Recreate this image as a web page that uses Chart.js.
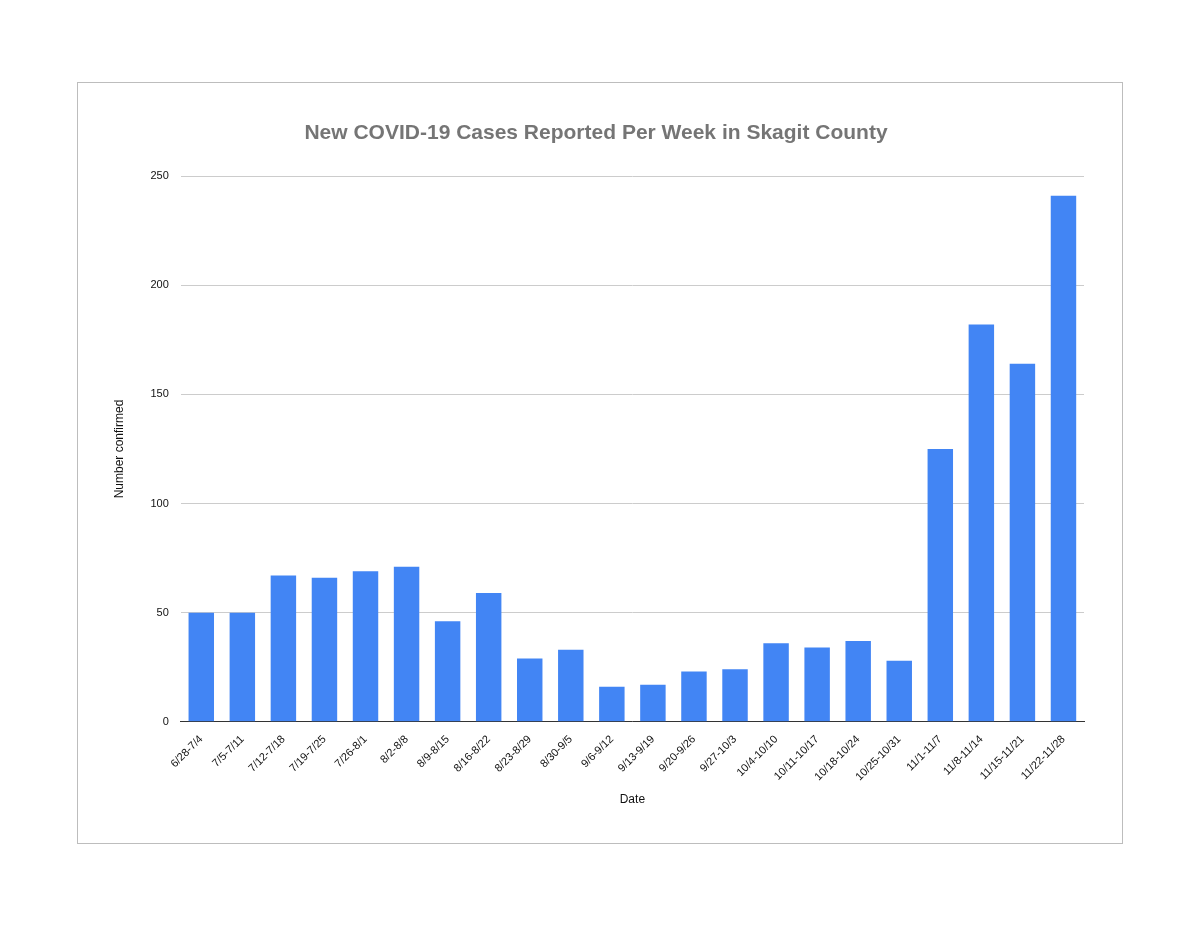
<!DOCTYPE html>
<html>
<head>
<meta charset="utf-8">
<script src="https://cdn.jsdelivr.net/npm/chart.js@4"></script>
<style>
  body { margin: 0; background: #fff; }
  #frame { position: absolute; left: 77px; top: 82px; width: 1044px; height: 760px; border: 1px solid #bdbdbd; }
</style>
</head>
<body>
<div id="frame"><canvas id="chart" width="1044" height="760"></canvas></div>
<script>
// Weekly ranges and confirmed case counts
const weeks = ['6/28-7/4', '7/5-7/11', '7/12-7/18', '7/19-7/25', '7/26-8/1', '8/2-8/8', '8/9-8/15', '8/16-8/22',
  '8/23-8/29', '8/30-9/5', '9/6-9/12', '9/13-9/19', '9/20-9/26', '9/27-10/3', '10/4-10/10', '10/11-10/17',
  '10/18-10/24', '10/25-10/31', '11/1-11/7', '11/8-11/14', '11/15-11/21', '11/22-11/28'];
const cases = [50, 50, 67, 66, 69, 71, 46, 59, 29, 33, 16, 17, 23, 24, 36, 34, 37, 28, 125, 182, 164, 241];

new Chart(document.getElementById('chart').getContext('2d'), {
  type: 'bar',
  data: {
    labels: weeks,
    datasets: [{ label: 'Number confirmed', data: cases, backgroundColor: '#4285f4', categoryPercentage: 0.62, barPercentage: 1 }]
  },
  options: {
    responsive: false,
    animation: false,
    layout: { padding: { left: 30, right: 38, top: 38, bottom: 32 } },
    plugins: {
      legend: { display: false },
      title: {
        display: true,
        text: 'New COVID-19 Cases Reported Per Week in Skagit County',
        color: '#757575',
        font: { family: 'Liberation Sans', size: 21, weight: 'bold' },
        padding: { bottom: 30 }
      }
    },
    scales: {
      x: {
        grid: { display: false },
        border: { color: '#333' },
        ticks: { maxRotation: 45, minRotation: 45, color: '#111', font: { family: 'Liberation Sans', size: 11 } },
        title: { display: true, text: 'Date', color: '#111', font: { family: 'Liberation Sans', size: 12 }, padding: { top: 6 } }
      },
      y: {
        min: 0, max: 250,
        grid: { color: '#cccccc', drawTicks: false },
        border: { display: false },
        ticks: { stepSize: 50, padding: 12, color: '#111', font: { family: 'Liberation Sans', size: 11 } },
        title: { display: true, text: 'Number confirmed', color: '#111', font: { family: 'Liberation Sans', size: 12 }, padding: { bottom: 12 } }
      }
    }
  }
});
</script>
</body>
</html>
